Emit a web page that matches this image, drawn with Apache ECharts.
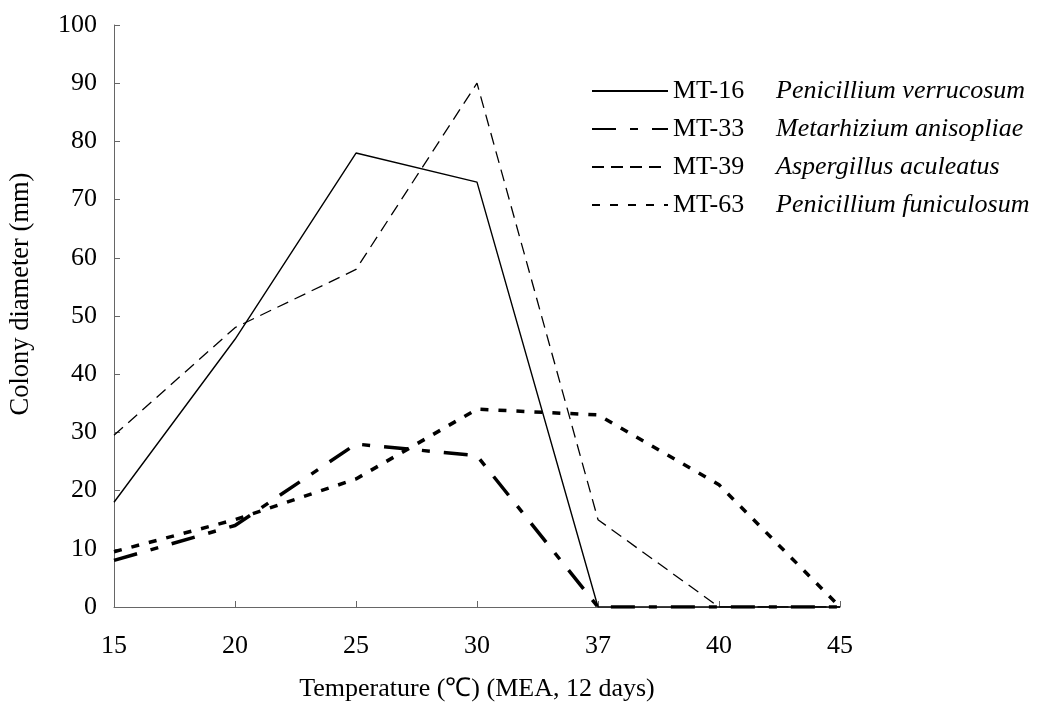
<!DOCTYPE html>
<html>
<head>
<meta charset="utf-8">
<script src="https://cdn.jsdelivr.net/npm/echarts@6/dist/echarts.min.js"></script>
<style>
  html, body { margin: 0; padding: 0; background: #fff; }
  #chart { width: 1043px; height: 704px; }
</style>
</head>
<body>
<div id="chart"></div>
<script>
var temps = ['15', '20', '25', '30', '37', '40', '45'];
var mt16 = [18, 46, 78, 73, 0, 0, 0];
var mt33 = [8, 14, 28, 26, 0, 0, 0];
var mt39 = [29.5, 48, 58, 90, 15, 0, 0];
var mt63 = [9.5, 15, 22, 34, 33, 21, 0];
var species = {
    'MT-16': 'Penicillium verrucosum',
    'MT-33': 'Metarhizium anisopliae',
    'MT-39': 'Aspergillus aculeatus',
    'MT-63': 'Penicillium funiculosum'
};

var font = 'Liberation Serif';
var dom = document.getElementById('chart');
var myChart = echarts.init(dom);

function line(name, data, width, type) {
    return {
        name: name,
        type: 'line',
        data: data,
        symbol: 'none',
        color: '#000',
        animation: false,
        lineStyle: { color: '#000', width: width, type: type }
    };
}

var option = {
    backgroundColor: '#fff',
    grid: { left: 114, right: 203, top: 25, bottom: 97, outerBoundsMode: 'none' },
    legend: {
        left: 586,
        top: 73,
        orient: 'vertical',
        itemWidth: 76,
        itemHeight: 14,
        itemGap: 12,
        itemStyle: { opacity: 0 },
        data: ['MT-16', 'MT-33', 'MT-39', 'MT-63'],
        formatter: function(n) {
            return '{a|' + n + '}{b|' + species[n] + '}';
        },
        textStyle: {
            rich: {
                a: { fontFamily: font, fontSize: 26, color: '#000', width: 103, lineHeight: 26 },
                b: { fontFamily: font, fontSize: 26, fontStyle: 'italic', color: '#000', lineHeight: 26 }
            }
        }
    },
    xAxis: {
        type: 'category',
        data: temps,
        boundaryGap: false,
        name: 'Temperature (℃) (MEA, 12 days)',
        nameLocation: 'middle',
        nameGap: 69,
        nameTextStyle: { fontFamily: font, fontSize: 26, color: '#000' },
        axisLine: { lineStyle: { color: '#666', width: 1 } },
        axisTick: { inside: true, length: 6, lineStyle: { color: '#666' } },
        axisLabel: { fontFamily: font, fontSize: 26, color: '#000', margin: 26 },
        splitLine: { show: false }
    },
    yAxis: {
        type: 'value',
        min: 0,
        max: 100,
        interval: 10,
        name: 'Colony diameter (mm)',
        nameLocation: 'middle',
        nameGap: 79,
        nameTextStyle: { fontFamily: font, fontSize: 26.5, color: '#000', padding: [0, 0, 0, 44] },
        axisLine: { show: true, lineStyle: { color: '#666', width: 1 } },
        axisTick: { show: true, inside: true, length: 6, lineStyle: { color: '#666' } },
        axisLabel: { fontFamily: font, fontSize: 26, color: '#000', margin: 17 },
        splitLine: { show: false }
    },
    series: [
        line('MT-16', mt16, 1.4, 'solid'),
        line('MT-33', mt33, 3.5, [24, 14, 8, 14]),
        line('MT-39', mt39, 1.3, [12, 7]),
        line('MT-63', mt63, 3.5, [8, 10])
    ]
};
myChart.setOption(option, true);
</script>
</body>
</html>
